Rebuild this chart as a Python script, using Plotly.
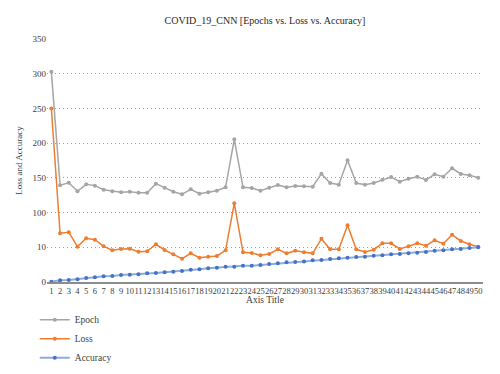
import plotly.graph_objects as go

epochs = list(range(1, 51))
epoch_vals = [303, 139.5, 143, 130.6, 140.7, 138.8, 133, 130.6, 129.2, 130,
              128.7, 128.7, 141.6, 135.9, 130, 126.3, 133.5, 127.2, 129.2, 131.5,
              136.4, 205.5, 136.4, 135.4, 131.5, 135.9, 139.7, 136.4, 138.3, 138,
              137.3, 156, 142.6, 140.2, 175.3, 142.6, 140.2, 142.6, 147.4, 151.2,
              144.5, 148.8, 151.7, 147, 155.1, 151.7, 163.8, 155.6, 153.7, 150.3]
loss_vals = [250, 70.2, 71.6, 50.9, 63, 61, 51.4, 45.7, 47.6, 48,
             43.7, 44.2, 54.3, 46.1, 39.9, 33.6, 41.3, 35, 36.5, 37.5,
             45.7, 113.4, 42.8, 41.8, 38.4, 40.3, 47.1, 41.3, 45.1, 42.8,
             41.3, 62.4, 47.1, 47.1, 81.7, 47.1, 43.2, 46.5, 55.7, 55.7,
             47.6, 51.4, 55.7, 52.3, 60, 55.2, 68.2, 59.1, 54.3, 50.9]
acc_vals = [0.5, 2.4, 2.9, 3.9, 5.8, 6.7, 8.2, 8.6, 10.1, 10.6,
            11.0, 12.5, 13.0, 14.0, 14.9, 15.9, 17.7, 18.3, 19.7, 20.6,
            22.1, 22.1, 23.5, 23.5, 24.5, 25.9, 26.9, 28.3, 28.8, 29.7,
            31.2, 31.7, 33.1, 34.1, 35.0, 36.0, 36.5, 37.9, 38.4, 39.9,
            40.3, 41.3, 42.2, 43.2, 45.1, 45.6, 47.1, 47.5, 49.0, 50.0]
y_tickvals = [0, 50, 100, 150, 200, 250, 300, 350]
y_ticktext = ["0", "10", "100", "150", "200", "250", "300", "350"]

FONT = "Liberation Serif, Times New Roman, serif"

fig = go.Figure()
fig.add_trace(go.Scatter(x=epochs, y=epoch_vals, name="Epoch", mode="lines+markers",
                         line=dict(color="#A5A5A5", width=1.5),
                         marker=dict(color="#A5A5A5", size=4)))
fig.add_trace(go.Scatter(x=epochs, y=loss_vals, name="Loss", mode="lines+markers",
                         line=dict(color="#ED7D31", width=1.5),
                         marker=dict(color="#ED7D31", size=4)))
fig.add_trace(go.Scatter(x=epochs, y=acc_vals, name="Accuracy", mode="lines+markers",
                         line=dict(color="#8FAADC", width=2),
                         marker=dict(color="#4472C4", size=4)))

fig.update_layout(
    width=500, height=374,
    margin=dict(l=47, r=17, t=39, b=92),
    paper_bgcolor="white", plot_bgcolor="white",
    font=dict(family=FONT, size=9, color="#404040"),
    title=dict(text="COVID_19_CNN [Epochs vs. Loss vs. Accuracy]",
               x=0.5, xref="paper", xanchor="center", y=0.944, yanchor="middle",
               font=dict(family=FONT, size=10, color="#262626")),
    showlegend=True,
    legend=dict(x=-0.028, xanchor="left", y=0.005, yref="container", yanchor="bottom",
                orientation="v", font=dict(family=FONT, size=9.5, color="#404040"),
                tracegroupgap=0, itemwidth=30, bgcolor="rgba(0,0,0,0)"),
)
fig.update_xaxes(
    range=[0.5, 50.55], tickmode="linear", tick0=1, dtick=1, tickangle=0,
    automargin=False,
    showgrid=False, zeroline=False, showline=True, linecolor="#8C8C8C", linewidth=2,
    ticks="", tickfont=dict(family=FONT, size=8.5, color="#404040"),
    title=dict(text="Axis Title", font=dict(family=FONT, size=9.5, color="#404040"), standoff=6),
)
fig.update_yaxes(
    range=[0, 350], tickmode="array", tickvals=y_tickvals, ticktext=y_ticktext,
    automargin=False,
    showgrid=True, gridcolor="#A0A0A0", griddash="1px,3px", gridwidth=1,
    zeroline=False, showline=False, ticks="",
    tickfont=dict(family=FONT, size=9, color="#404040"),
    title=dict(text="Loss and Accuracy", font=dict(family=FONT, size=9, color="#404040"), standoff=8),
)
fig.write_html("out.html", config={"displayModeBar": False},
               post_script="document.body.style.margin='0';")
